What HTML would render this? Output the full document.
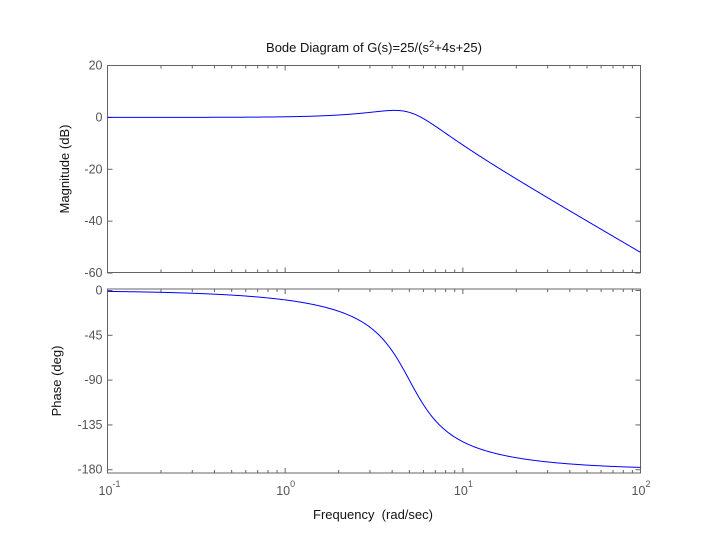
<!DOCTYPE html>
<html><head><meta charset="utf-8"><style>
html,body{margin:0;padding:0;background:#fff;}
svg text{font-family:"Liberation Sans",Arial,sans-serif;}
</style></head><body>
<svg id="s" width="707" height="531" xmlns="http://www.w3.org/2000/svg"></svg>
<script>
const s=document.getElementById('s');
let h='';
const L=107.5,R=640.5;
const X=w=>L+(Math.log10(w)+1)*177.67;
const T1=65.5,B1=272.5,T2=289,B2=473;
const My=d=>117.4-d*2.594;
const Py=p=>290.5-p*0.9956;
const ax='#646464';
function box(t,b){h+=`<rect x="${L}" y="${t}" width="${R-L}" height="${b-t}" fill="none" stroke="${ax}" stroke-width="1"/>`;
 for(let e=-1;e<2;e++)for(let k=1;k<10;k++){const x=X(k*Math.pow(10,e));const len=k==1?5:3;
  h+=`<line x1="${x}" y1="${t}" x2="${x}" y2="${t+len}" stroke="${ax}"/><line x1="${x}" y1="${b}" x2="${x}" y2="${b-len}" stroke="${ax}"/>`;}}
box(T1,B1);box(T2,B2);
[20,0,-20,-40,-60].forEach(d=>{const y=My(d);h+=`<line x1="${L}" y1="${y}" x2="${L+5}" y2="${y}" stroke="${ax}"/><line x1="${R}" y1="${y}" x2="${R-5}" y2="${y}" stroke="${ax}"/><text x="${L-5}" y="${y+4}" font-size="12.5" fill="#555" text-anchor="end">${d}</text>`;});
[0,-45,-90,-135,-180].forEach(d=>{const y=Py(d);h+=`<line x1="${L}" y1="${y}" x2="${L+5}" y2="${y}" stroke="${ax}"/><line x1="${R}" y1="${y}" x2="${R-5}" y2="${y}" stroke="${ax}"/><text x="${L-5}" y="${y+4}" font-size="12.5" fill="#555" text-anchor="end">${d}</text>`;});
[-1,0,1,2].forEach(e=>{const x=X(Math.pow(10,e));h+=`<text x="${x-2}" y="495" font-size="12.5" fill="#555" text-anchor="middle">10</text><text x="${x+5}" y="487" font-size="9" fill="#555">${e}</text>`;});
let pm='',pp='';
for(let i=0;i<=600;i++){const w=Math.pow(10,-1+3*i/600);
 const re=25-w*w,im=4*w;const mag=20*Math.log10(25/Math.hypot(re,im));
 const ph=-Math.atan2(im,re)*180/Math.PI;
 pm+=(i?'L':'M')+X(w).toFixed(2)+' '+My(mag).toFixed(2);
 pp+=(i?'L':'M')+X(w).toFixed(2)+' '+Py(ph).toFixed(2);}
h+=`<path d="${pm}" fill="none" stroke="#0000ff" stroke-width="1"/><path d="${pp}" fill="none" stroke="#0000ff" stroke-width="1"/>`;
h+=`<text x="374" y="52" font-size="13" fill="#111" text-anchor="middle">Bode Diagram of G(s)=25/(s<tspan font-size="9.5" dy="-5">2</tspan><tspan dy="5">+4s+25)</tspan></text>`;
h+=`<text x="373" y="519" font-size="13" fill="#111" text-anchor="middle" xml:space="preserve">Frequency  (rad/sec)</text>`;
h+=`<text transform="translate(69,169) rotate(-90)" font-size="13" fill="#111" text-anchor="middle">Magnitude (dB)</text>`;
h+=`<text transform="translate(61,381) rotate(-90)" font-size="13" fill="#111" text-anchor="middle">Phase (deg)</text>`;
s.innerHTML=h;
</script>
</body></html>
